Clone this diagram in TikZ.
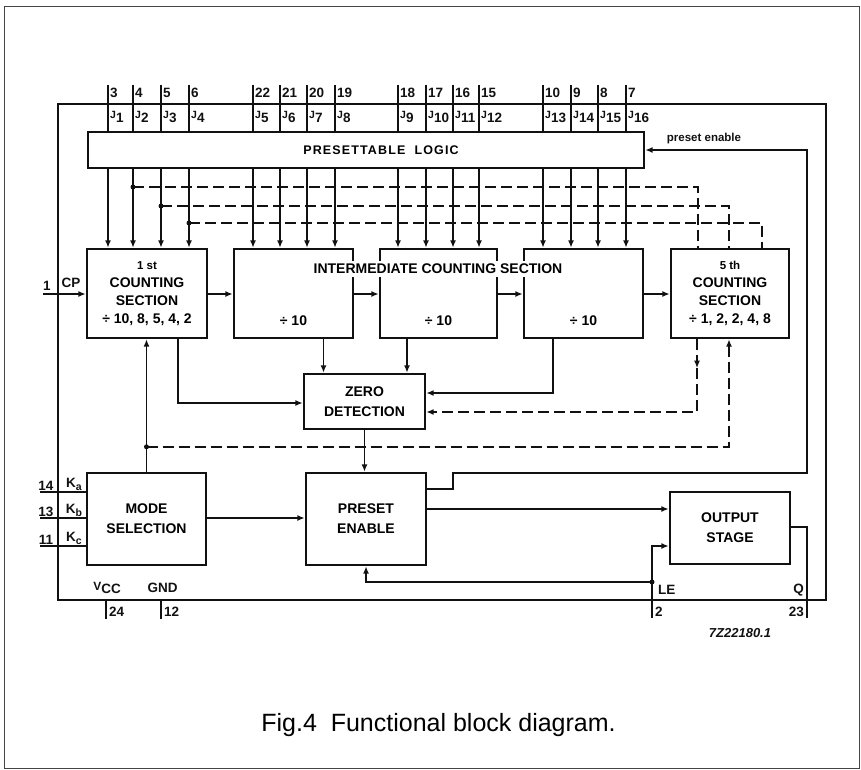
\documentclass[tikz,border=0pt]{standalone}
\usepackage{fontspec}
\setmainfont{Liberation Sans}
\usetikzlibrary{arrows.meta,calc}
\definecolor{ink}{HTML}{111111}
\definecolor{framegray}{HTML}{444444}
\newcommand{\jlab}[1]{{\fontsize{10.5}{10}\selectfont J}\raisebox{-3.5pt}{#1}}
\newcommand{\klab}[1]{K\raisebox{-3pt}{\fontsize{10.5}{10}\selectfont #1}}
\tikzset{
  font=\bfseries,
  chip/.style={
    draw=ink,
    line width=1.8pt,
    inner sep=0pt
  },
  block/.style={
    draw=ink,
    line width=2.4pt,
    align=center,
    inner sep=0pt,
    font=\bfseries\fontsize{14}{20}\selectfont
  },
  section/.style={
    block,
    minimum height=89pt,
    font=\bfseries\fontsize{14}{18}\selectfont
  },
  wire/.style={
    draw=ink,
    line width=1.7pt
  },
  arrow/.style={
    wire,
    -{Latex[length=7.5pt,width=6pt]}
  },
  dashwire/.style={
    wire,
    dash pattern=on 11pt off 5pt
  },
  dasharrow/.style={
    dashwire,
    -{Latex[length=7.5pt,width=6pt]}
  },
  dot/.style={
    fill=ink
  },
  pinnum/.style={
    font=\bfseries\fontsize{13.5}{14}\selectfont,
    text=ink,
    inner sep=1pt
  },
  smalllabel/.style={
    font=\bfseries\fontsize{11.5}{12}\selectfont,
    text=ink,
    inner sep=1pt
  },
  midtitle/.style={
    font=\bfseries\fontsize{14}{15}\selectfont,
    fill=white,
    inner xsep=1pt,
    inner ysep=3pt
  },
  frame/.style={
    draw=framegray,
    line width=0.8pt
  }
}

\begin{document}
\begin{tikzpicture}[x=1pt, y=-1pt]
\useasboundingbox (0,0) rectangle (861,770);
\draw[frame] (4.7,6.7) rectangle (859.5,768.5);

% chip outline and main blocks
\node[chip, minimum width=768pt, minimum height=496pt] (chip) at (442,352) {};

\node[block, minimum width=556pt, minimum height=36pt] (logic) at (366,150) {};
\node[font=\bfseries\fontsize{12.5}{13}\selectfont\addfontfeatures{LetterSpace=9}] (logictext) at (381,150)
  {PRESETTABLE\ \ LOGIC};

\node[section, minimum width=120pt] (first) at (147,293.5)
  {{\fontsize{11.5}{18}\selectfont 1 st}\\COUNTING\\SECTION\\÷ 10, 8, 5, 4, 2};
\node[section, minimum width=119pt] (intA) at (293.5,293.5) {};
\node[section, minimum width=117pt] (intB) at (438.5,293.5) {};
\node[section, minimum width=119pt] (intC) at (583.5,293.5) {};
\node[section, minimum width=118pt] (fifth) at (730,293.5)
  {{\fontsize{11.5}{18}\selectfont 5 th}\\COUNTING\\SECTION\\÷ 1, 2, 2, 4, 8};

\node[block, draw=none] (divA) at ([yshift=-27.5pt]intA.center) {÷ 10};
\node[block, draw=none] (divB) at ([yshift=-27.5pt]intB.center) {÷ 10};
\node[block, draw=none] (divC) at ([yshift=-27.5pt]intC.center) {÷ 10};

\node[midtitle] (midlabel) at (438,269) {INTERMEDIATE COUNTING SECTION};

\node[block, minimum width=121pt, minimum height=55pt] (zero) at (364.5,401.5)
  {ZERO\\DETECTION};
\node[block, minimum width=119pt, minimum height=92pt] (mode) at (146.5,519)
  {MODE\\SELECTION};
\node[block, minimum width=120pt, minimum height=92pt] (preset) at (366,519)
  {PRESET\\ENABLE};
\node[block, minimum width=120pt, minimum height=72pt] (output) at (730,528)
  {OUTPUT\\STAGE};

% preset inputs J1..J16
\foreach \px/\pn/\jn/\sec in {108/3/1/first, 133/4/2/first, 161/5/3/first, 189/6/4/first,
    253/22/5/intA, 280/21/6/intA, 307/20/7/intA, 335/19/8/intA,
    398/18/9/intB, 426/17/10/intB, 453/16/11/intB, 479/15/12/intB,
    543/10/13/intC, 571/9/14/intC, 598/8/15/intC, 626/7/16/intC} {
  \coordinate (top\pn) at (\px,85);
  \draw[wire] (top\pn) -- (top\pn |- logic.north);
  \node[pinnum, anchor=west] (num\pn) at (\px+1,93) {\pn};
  \node[pinnum, anchor=west] (jin\jn) at (\px+1,117) {\jlab{\jn}};
  \draw[arrow] (top\pn |- logic.south) -- (top\pn |- \sec.north);
}

% dashed taps to the 5th section
\foreach \py/\pn/\dx in {187/4/-32, 206/5/-1, 223/6/32} {
  \coordinate (tap\pn) at (top\pn |- 0,\py);
  \fill[dot] (tap\pn) circle (2.5pt);
  \draw[dashwire] (tap\pn) -| ([xshift=\dx pt]fifth.north);
}

% counter chain
\coordinate (cp) at (43,294);
\node[pinnum] (cpnum) at (47,286) {1};
\node[pinnum] (cplab) at (71,283) {CP};
\draw[arrow] (cp) -- (cp -| first.west);
\draw[arrow] (first.east |- 0,294) -- (intA.west |- 0,294);
\draw[arrow] (intA.east |- 0,294) -- (intB.west |- 0,294);
\draw[arrow] (intB.east |- 0,294) -- (intC.west |- 0,294);
\draw[arrow] (intC.east |- 0,294) -- (fifth.west |- 0,294);

% zero detection
\draw[arrow] ([xshift=30pt]intA.south) -- ([xshift=30pt]intA.south |- zero.north);
\draw[arrow] ([xshift=-31.5pt]intB.south) -- ([xshift=-31.5pt]intB.south |- zero.north);
\draw[arrow] ([xshift=31pt]first.south) |- ([yshift=-1.5pt]zero.west);
\draw[arrow] ([xshift=-30.5pt]intC.south) |- ([yshift=8.5pt]zero.east);
\coordinate (fifthout) at ([xshift=-33pt]fifth.south);
\draw[dasharrow] (fifthout) -- ++(0,29) coordinate (fifthmid);
\draw[dasharrow] (fifthmid) |- ([yshift=-10.5pt]zero.east);
\draw[arrow] (zero.south) -- (zero.south |- preset.north);

% mode selection feedback
\draw[arrow] (mode.north) -- (mode.north |- first.south);
\coordinate (fbdot) at ($(mode.north)+(0,-25)$);
\fill[dot] (fbdot) circle (2.5pt);
\draw[dasharrow] (fbdot) -| ([xshift=-1pt]fifth.south);

\foreach \ky/\kn/\ks in {492/14/a, 518/13/b, 546/11/c} {
  \coordinate (kin\ks) at (40,\ky);
  \draw[wire] (kin\ks) -- (kin\ks -| mode.west);
  \node[pinnum, anchor=south] (knum\kn) at (46,\ky) {\kn};
  \node[pinnum, anchor=south] (klab\ks) at (74,\ky) {\klab{\ks}};
}
\draw[arrow] (mode.east |- 0,518) -- (preset.west |- 0,518);

% preset enable loop
\coordinate (pebend) at (807,473);
\draw[arrow] ([yshift=30pt]preset.east) -- ++(26,0) |- (pebend) |- (logic.east);
\node[smalllabel] (pelabel) at (704,139) {preset enable};
\draw[arrow] ([yshift=10pt]preset.east) -- ([yshift=10pt]preset.east -| output.west);

% latch enable and output
\coordinate (le) at (652,618);
\coordinate (ledot) at (652,582);
\draw[arrow] (le) |- ([yshift=-18pt]output.west);
\fill[dot] (ledot) circle (2.5pt);
\draw[arrow] (ledot) -| (preset.south);
\coordinate (q) at (807,618);
\draw[wire] ([yshift=1pt]output.east) -| (q);

% supply pins
\draw[wire] (chip.south -| 106,0) -- ++(0,18);
\draw[wire] (chip.south -| 161,0) -- ++(0,18);
\node[pinnum] (vcc) at (107,588) {{\fontsize{12}{12}\selectfont V}\raisebox{-3.5pt}{CC}};
\node[pinnum] (gnd) at (162.5,588) {GND};
\node[pinnum, anchor=west] (num24) at (108,612) {24};
\node[pinnum, anchor=west] (num12) at (163,612) {12};
\node[pinnum, anchor=west] (lelab) at (657,590) {LE};
\node[pinnum, anchor=west] (num2) at (654,612) {2};
\node[pinnum, anchor=east] (qlab) at (805,590) {Q};
\node[pinnum, anchor=east] (num23) at (805,612) {23};

\node[smalllabel, font=\bfseries\itshape\fontsize{13}{13}\selectfont] (code) at (740,633) {7Z22180.1};

\node[font=\mdseries\fontsize{25}{27}\selectfont] (caption) at (438.5,725) {Fig.4\ \ Functional block diagram.};
\end{tikzpicture}
\end{document}
